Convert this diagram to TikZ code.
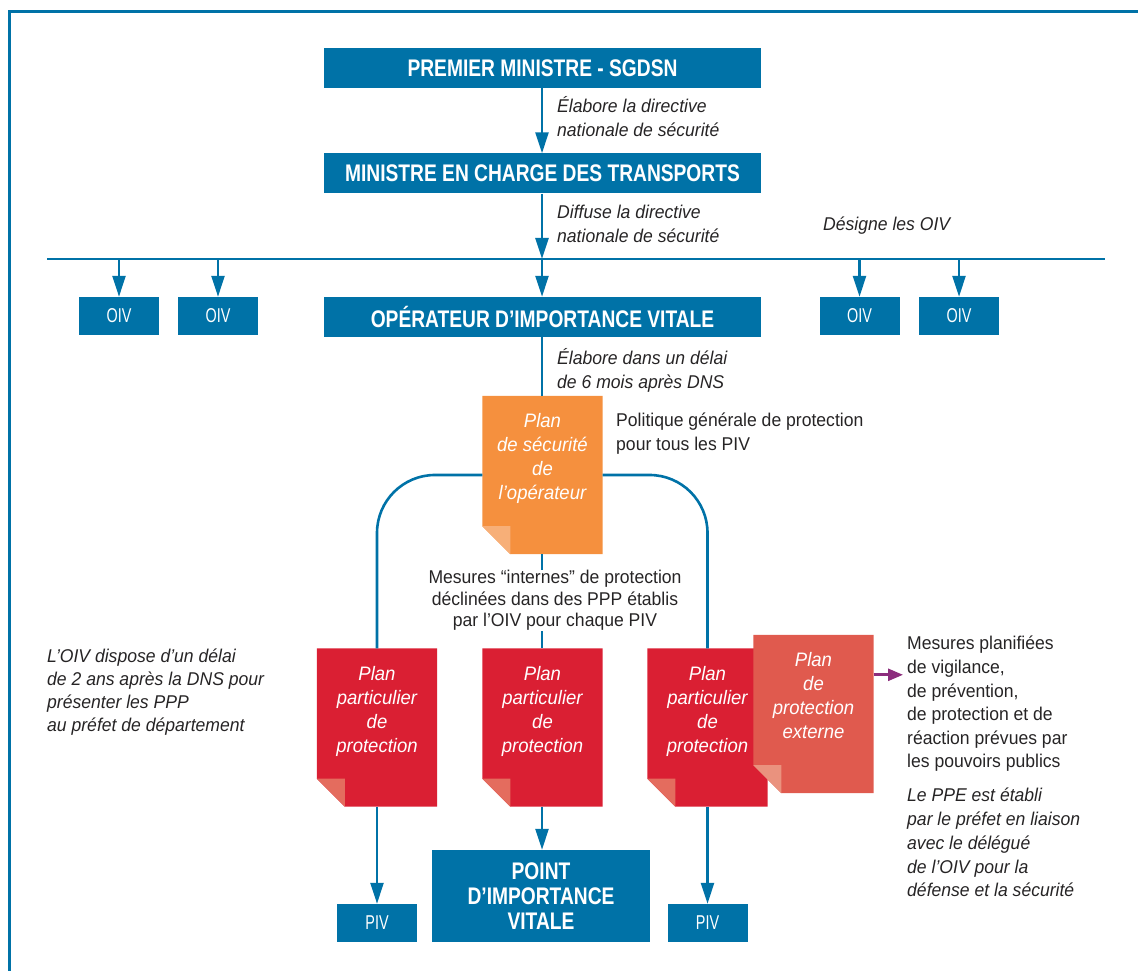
\documentclass[tikz,border=0pt]{standalone}
\usepackage{fontspec}
\setmainfont{Liberation Sans}[FakeStretch=0.95]
\newfontfamily\boxfont{Liberation Sans}[FakeStretch=0.8]
\newfontfamily\oivfont{Liberation Sans}[FakeStretch=0.72]
\usepackage{tikz}
\usetikzlibrary{positioning}
\usetikzlibrary{calc}
\usetikzlibrary{arrows.meta}
\usetikzlibrary{backgrounds}

\definecolor{sgdsnblue}{RGB}{0,114,167}
\definecolor{notegrey}{RGB}{38,36,37}
\definecolor{planorange}{RGB}{245,144,62}
\definecolor{foldorange}{RGB}{247,175,120}
\definecolor{planred}{RGB}{218,31,51}
\definecolor{foldred}{RGB}{228,108,94}
\definecolor{ppered}{RGB}{224,90,78}
\definecolor{foldppe}{RGB}{234,146,126}
\definecolor{ppepurple}{RGB}{140,45,125}

% plan document with folded corner: name, position, fill, fold, text
\newcommand{\plandoc}[5]{%
	\node[docbox] (#1) at (#2) {};
	\node[doctext] (#1-t) at ($(#1.north)+(0,-104)$) {#5};
	\begin{pgfonlayer}{background}
		\fill[#3] (#1.north west) -- (#1.north east) -- (#1.south east) -- ($(#1.south west)+(28,0)$) -- ($(#1.south west)+(0,28)$) -- cycle;
		\fill[#4] ($(#1.south west)+(0,28)$) -- ($(#1.south west)+(28,28)$) -- ($(#1.south west)+(28,0)$) -- cycle;
	\end{pgfonlayer}}

\begin{document}
\begin{tikzpicture}[x=1pt, y=1pt,
		titlebox/.style={fill=sgdsnblue, text=white, inner sep=0pt, minimum width=437, minimum height=40, align=center, font=\boxfont\bfseries\fontsize{24}{25}\selectfont},
		oivbox/.style={fill=sgdsnblue, text=white, inner sep=0pt, minimum width=80, minimum height=38, font=\oivfont\fontsize{20}{24}\selectfont},
		note/.style={text=notegrey, inner sep=0pt, align=left, anchor=base west, font=\fontsize{18.5}{24}\selectfont},
		docbox/.style={inner sep=0pt, minimum width=120, minimum height=158},
		doctext/.style={text=white, inner sep=0pt, anchor=base, align=center, font=\itshape\fontsize{19.5}{24}\selectfont},
		link/.style={draw=sgdsnblue, line width=2.6pt},
		arr/.style={link, -{Triangle[length=21pt, width=13pt]}},
		parr/.style={draw=ppepurple, line width=2.6pt, -{Triangle[length=15pt, width=12pt]}}]
		\useasboundingbox (0,0) rectangle (1138,971);
		\draw[sgdsnblue, line width=3pt] (9.5,0) -- (9.5,959.5) -- (1138,959.5);

		% chain of command
		\node[titlebox] (pm) at (542.5,903) {PREMIER MINISTRE - SGDSN};
		\node[titlebox] (min) at (542.5,797.5) {MINISTRE EN CHARGE DES TRANSPORTS};
		\node[titlebox] (ope) at (542.5,654) {OPÉRATEUR D’IMPORTANCE VITALE};
		\node[oivbox] (oiv1) at (119,655) {OIV};
		\node[oivbox] (oiv2) at (218,655) {OIV};
		\node[oivbox] (oiv3) at (859.5,655) {OIV};
		\node[oivbox] (oiv4) at (959,655) {OIV};

		\node[note, font=\itshape\fontsize{18.5}{24}\selectfont] (elab) at (557,834) {Élabore la directive\\nationale de sécurité};
		\node[note, font=\itshape\fontsize{18.5}{24}\selectfont] (diff) at (557,728) {Diffuse la directive\\nationale de sécurité};
		\node[note, font=\itshape\fontsize{18.5}{24}\selectfont] (desig) at (823,740) {Désigne les OIV};
		\node[note, font=\itshape\fontsize{18.5}{23.5}\selectfont] (delai) at (557,582.5) {Élabore dans un délai\\de 6 mois après DNS};

		\coordinate (hl) at (47,712);
		\coordinate (hr) at (1105,712);
		\draw[link] (hl) -- (hr);
		\draw[arr] (pm.south -| 542,0) -- (min.north -| 542,0);
		\draw[arr] (min.south -| 542,0) -- (hl -| 542,0);
		\draw[arr] (hl -| 542,0) -- (ope.north -| 542,0);
		\foreach \o in {oiv1,oiv2,oiv3,oiv4}
			\draw[arr] (hl -| \o.north) -- (\o.north);

		% plans
		\plandoc{pso}{542.5,496}{planorange}{foldorange}{Plan\\de sécurité\\de\\l’opérateur}
		\plandoc{ppp1}{377,243.5}{planred}{foldred}{Plan\\particulier\\de\\protection}
		\plandoc{ppp2}{542.5,243.5}{planred}{foldred}{Plan\\particulier\\de\\protection}
		\plandoc{ppp3}{707.5,243.5}{planred}{foldred}{Plan\\particulier\\de\\protection}
		\plandoc{ppe}{813.5,257}{ppered}{foldppe}{Plan\\de\\protection\\externe}

		\node[note] (pol) at (616,520) {Politique générale de protection\\pour tous les PIV};
		\node[note, anchor=base, align=center, font=\fontsize{18.5}{21.5}\selectfont] (mes) at (555,344) {Mesures “internes” de protection\\déclinées dans des PPP établis\\par l’OIV pour chaque PIV};
		\node[note, font=\itshape\fontsize{18.5}{23}\selectfont] (oivd) at (47,239) {L’OIV dispose d’un délai\\de 2 ans après la DNS pour\\présenter les PPP\\au préfet de département};
		\node[note, font=\fontsize{18.5}{23.6}\selectfont] (mplan) at (907,203) {Mesures planifiées\\de vigilance,\\de prévention,\\de protection et de\\réaction prévues par\\les pouvoirs publics};
		\node[note, font=\itshape\fontsize{18.5}{23.75}\selectfont] (pref) at (907,74) {Le PPE est établi\\par le préfet en liaison\\avec le délégué\\de l’OIV pour la\\défense et la sécurité};

		\draw[link] (ope.south -| 542,0) -- (pso.north -| 542,0);
		\draw[link, rounded corners=58] (pso.west) -- (pso.west -| ppp1.north) -- (ppp1.north);
		\draw[link, rounded corners=58] (pso.east) -- (pso.east -| ppp3.north) -- (ppp3.north);
		\draw[link] (pso.south -| 542,0) -- (mes.north -| 542,0);
		\draw[link] (mes.south -| 542,0) -- (ppp2.north -| 542,0);
		\coordinate (pe) at ($(ppe.north east)+(0,-40)$);
		\draw[parr] (pe) -- ($(pe -| mplan.west)+(-4,0)$);

		% vital points
		\node[oivbox] (piv1) at (377,48) {PIV};
		\node[oivbox] (piv2) at (707.5,48) {PIV};
		\node[titlebox, minimum width=218, minimum height=92] (piv) at (541,75) {POINT\\D’IMPORTANCE\\VITALE};
		\draw[arr] (ppp1.south) -- (piv1.north);
		\draw[arr] (ppp2.south -| 542,0) -- (piv.north -| 542,0);
		\draw[arr] (ppp3.south) -- (piv2.north);
	\end{tikzpicture}
\end{document}
